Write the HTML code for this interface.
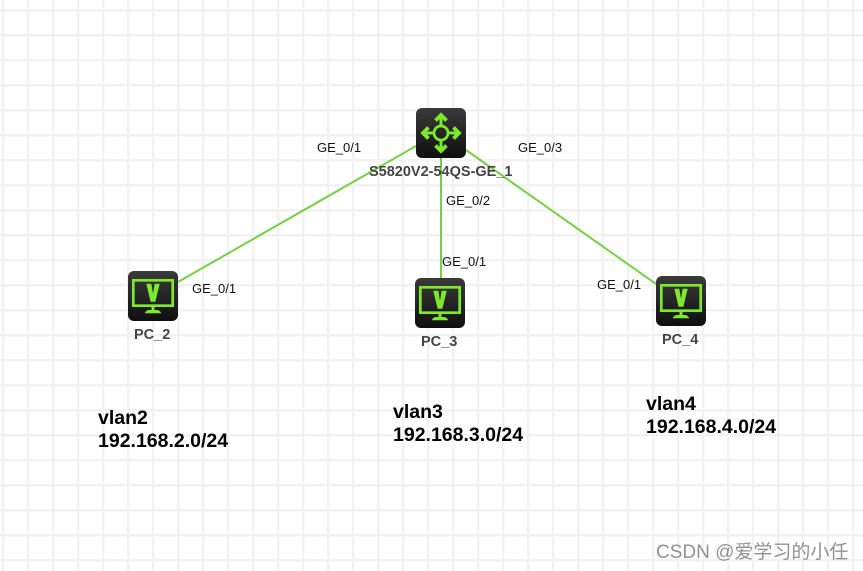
<!DOCTYPE html>
<html><head><meta charset="utf-8"><style>
html,body{margin:0;padding:0;background:#fff}
svg{display:block}
text{font-family:"Liberation Sans",sans-serif}
.p{font-size:13px;fill:#111}
.n{font-size:14.5px;font-weight:bold;fill:#444}
.v{font-size:19.5px;font-weight:bold;fill:#000}
</style></head><body>
<svg width="863" height="571" viewBox="0 0 863 571" xmlns="http://www.w3.org/2000/svg">
<defs>
<pattern id="g" x="2" y="9" width="25" height="25" patternUnits="userSpaceOnUse">
<rect x="0" y="0" width="25" height="2.6" fill="#f2f2f2"/>
<rect x="0" y="0" width="2.4" height="25" fill="#f2f2f2"/>
</pattern>
<linearGradient id="d" x1="0" y1="0" x2="0" y2="1"><stop offset="0" stop-color="#3a3a3a"/><stop offset="1" stop-color="#0f0f0f"/></linearGradient>
<g id="pc">
<rect width="50" height="50" rx="6" fill="url(#d)"/>
<rect x="5.300" y="9.300" width="39.400" height="25.400" fill="none" stroke="#7de82e" stroke-width="2.700"/>
<path d="M18.300 12.800h5l1.700 10 1.700-10h5l-4.300 18h-4.800z" fill="#7de82e"/>
<rect x="23.500" y="36" width="3" height="3" fill="#7de82e"/>
<path d="M16.700 42.200c1-2 2.500-3.200 4-3.200h8.600c1.500 0 3 1.200 4 3.200z" fill="#7de82e"/>
</g>
</defs>
<rect width="863" height="571" fill="#fff"/>
<rect width="863" height="571" fill="url(#g)"/>
<g stroke="#76d044" stroke-width="2" fill="none">
<line x1="416" y1="146" x2="178" y2="282"/>
<line x1="441" y1="158" x2="441" y2="278"/>
<line x1="466" y1="150" x2="656" y2="284"/>
</g>
<g transform="translate(416,108)">
<rect width="50" height="50" rx="6" fill="url(#d)"/>
<circle cx="25" cy="25" r="7" fill="none" stroke="#7de82e" stroke-width="2.800"/>
<g stroke="#7de82e" fill="none">
<path stroke-width="3" d="M25 18V8M25 32V42M18 25H8M32 25H42"/>
<path stroke-width="3.800" d="M19.500 12.500L25 7l5.500 5.500M19.500 37.500L25 43l5.500-5.500M12.500 19.500L7 25l5.500 5.500M37.500 19.500L43 25l-5.500 5.500"/>
</g>
</g>
<use href="#pc" x="128" y="271"/>
<use href="#pc" x="415" y="278"/>
<use href="#pc" x="656" y="276"/>
<text class="p" x="317" y="152">GE_0/1</text>
<text class="p" x="518" y="152">GE_0/3</text>
<text class="p" x="446" y="205">GE_0/2</text>
<text class="p" x="442" y="266">GE_0/1</text>
<text class="p" x="192" y="293">GE_0/1</text>
<text class="p" x="597" y="289">GE_0/1</text>
<text class="n" x="369" y="176">S5820V2-54QS-GE_1</text>
<text class="n" x="134" y="339">PC_2</text>
<text class="n" x="421" y="346">PC_3</text>
<text class="n" x="662" y="344">PC_4</text>
<text class="v" x="98" y="424">vlan2</text>
<text class="v" x="98" y="447">192.168.2.0/24</text>
<text class="v" x="393" y="418">vlan3</text>
<text class="v" x="393" y="441">192.168.3.0/24</text>
<text class="v" x="646" y="410">vlan4</text>
<text class="v" x="646" y="433">192.168.4.0/24</text>
<text x="656" y="558" style="font-family:'Liberation Sans','Noto Sans CJK SC',sans-serif;font-size:19px;fill:#929292">CSDN @爱学习的小任</text>
</svg>
</body></html>
